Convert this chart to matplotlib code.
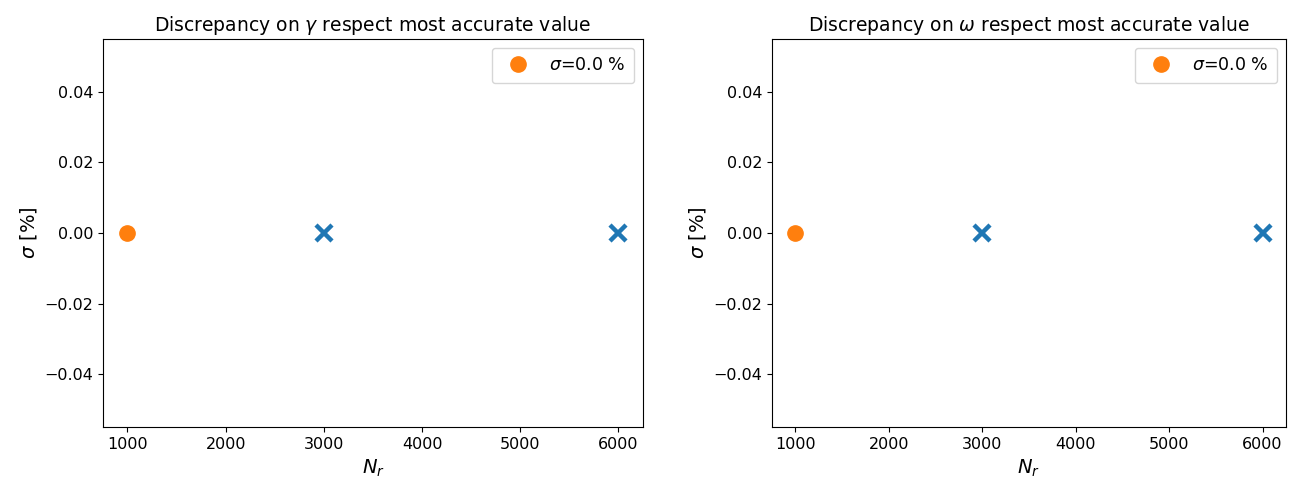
import numpy as np
import matplotlib
matplotlib.use('Agg')
import matplotlib.pyplot as plt

# data
ref_N = [1000]
ref_sigma = [0.0]
other_N = [3000, 6000]
other_sigma = [0.0, 0.0]
params = ['\\gamma', '\\omega']
legend_label = r'$\sigma$=0.0 %'

plt.rcParams['font.size'] = 11.5

fig = plt.figure(figsize=(12.95, 4.82), dpi=100)
axes = [fig.add_axes([0.0795, 0.114, 0.417, 0.805]),
        fig.add_axes([0.596, 0.114, 0.397, 0.805])]

for ax, p in zip(axes, params):
    ax.plot(ref_N, ref_sigma, 'o', color='#ff7f0e', ms=11, label=legend_label)
    ax.plot(other_N, other_sigma, 'x', color='#1f77b4', ms=12, mew=3.2)
    ax.set_ylim(-0.055, 0.055)
    ax.set_xlim(750, 6250)
    ax.set_xticks([1000, 2000, 3000, 4000, 5000, 6000])
    ax.set_yticks([-0.04, -0.02, 0.0, 0.02, 0.04])
    ax.set_yticklabels(['\u22120.04', '\u22120.02', '0.00', '0.02', '0.04'])
    ax.set_xlabel(r'$N_r$', fontsize=14)
    ax.set_ylabel(r'$\sigma$ [%]', fontsize=14)
    ax.set_title(r'Discrepancy on $%s$ respect most accurate value' % p, fontsize=13.5)
    ax.legend(loc='upper right', fontsize=12.5, borderpad=0.5)

fig.savefig('out.png', dpi=100)
